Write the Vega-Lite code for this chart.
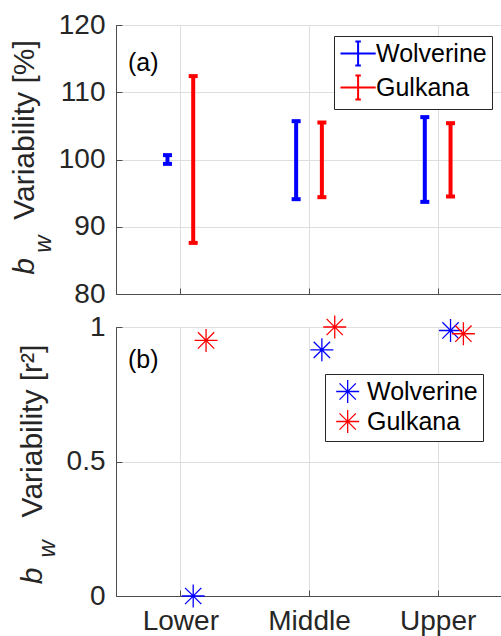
{
  "$schema": "https://vega.github.io/schema/vega-lite/v6.json",
  "padding": {"left": 8, "top": 10, "right": 0, "bottom": 0},
  "background": "white",
  "bounds": "flush",
  "spacing": 33,
  "resolve": {"legend": {"color": "independent"}, "scale": {"color": "independent"}},
  "config": {
    "font": "Liberation Sans",
    "view": {"stroke": "#4d4d4d", "strokeWidth": 1},
    "axis": {
      "labelFont": "Liberation Sans",
      "labelFontSize": 28,
      "labelColor": "#262626",
      "domainColor": "#4d4d4d",
      "tickColor": "#4d4d4d",
      "gridColor": "#dedede",
      "grid": true,
      "tickSize": -6,
      "labelPadding": 17,
      "titleFont": "Liberation Sans",
      "titleFontSize": 30,
      "titleFontWeight": "normal",
      "titleColor": "#262626"
    }
  },
  "vconcat": [
    {
      "width": 386,
      "height": 269,
      "data": {"values": [
        {"site": "Wolverine", "x": 0.9, "lo": 99.35, "hi": 100.65},
        {"site": "Gulkana", "x": 1.1, "lo": 87.6, "hi": 112.4},
        {"site": "Wolverine", "x": 1.9, "lo": 94.1, "hi": 105.7},
        {"site": "Gulkana", "x": 2.1, "lo": 94.4, "hi": 105.5},
        {"site": "Wolverine", "x": 2.9, "lo": 93.7, "hi": 106.3},
        {"site": "Gulkana", "x": 3.1, "lo": 94.5, "hi": 105.4}
      ]},
      "encoding": {
        "x": {"field": "x", "type": "quantitative",
          "scale": {"domain": [0.5, 3.5], "nice": false, "zero": false},
          "axis": {"values": [1, 2, 3], "labels": false, "title": null}},
        "color": {"field": "site", "type": "nominal",
          "scale": {"domain": ["Wolverine", "Gulkana"], "range": ["#0000ff", "#ff0000"]},
          "legend": {"title": null, "orient": "none", "legendX": 218, "legendY": 11,
            "fillColor": "white", "strokeColor": "#262626", "padding": 5,
            "symbolType": "M-1,0H2.2M0.6,-1.1V1.1M0.35,-1.1H0.85M0.35,1.1H0.85",
            "symbolSize": 484, "symbolStrokeWidth": 2, "symbolFillColor": "transparent",
            "labelFontSize": 25, "labelFont": "Liberation Sans", "labelColor": "black",
            "labelOffset": 12, "rowPadding": 1}}
      },
      "layer": [
        {
          "mark": {"type": "rule", "strokeWidth": 4},
          "encoding": {
            "y": {"field": "lo", "type": "quantitative",
              "scale": {"domain": [80, 120], "nice": false, "zero": false},
              "axis": {"values": [80, 90, 100, 110, 120], "title": "Variability [%]",
                "titleX": -92, "titleY": 104.5, "titleAngle": 270, "titleAlign": "center", "titleBaseline": "middle"}},
            "y2": {"field": "hi"}
          }
        },
        {
          "mark": {"type": "tick", "orient": "horizontal", "thickness": 4, "size": 9, "opacity": 1},
          "encoding": {"y": {"field": "lo", "type": "quantitative", "title": "Variability [%]"}}
        },
        {
          "mark": {"type": "tick", "orient": "horizontal", "thickness": 4, "size": 9, "opacity": 1},
          "encoding": {"y": {"field": "hi", "type": "quantitative", "title": "Variability [%]"}}
        },
        {
          "data": {"values": [{"label": "(a)", "x": 0.593, "y": 114.4}]},
          "mark": {"type": "text", "align": "left", "baseline": "middle", "fontSize": 25},
          "encoding": {
            "x": {"field": "x", "type": "quantitative"},
            "y": {"field": "y", "type": "quantitative", "title": "Variability [%]"},
            "text": {"field": "label"},
            "color": {"value": "black"}
          }
        },
        {
          "data": {"values": [{"label": "b", "x": 0.5, "y": 84.1}]},
          "mark": {"type": "text", "align": "center", "baseline": "middle", "fontSize": 30, "fontStyle": "italic", "angle": 270, "dy": -91},
          "encoding": {
            "x": {"field": "x", "type": "quantitative"},
            "y": {"field": "y", "type": "quantitative", "title": "Variability [%]"},
            "text": {"field": "label"},
            "color": {"value": "#262626"}
          }
        },
        {
          "data": {"values": [{"label": "w", "x": 0.5, "y": 87.44}]},
          "mark": {"type": "text", "align": "center", "baseline": "middle", "fontSize": 24, "fontStyle": "italic", "angle": 270, "dy": -72},
          "encoding": {
            "x": {"field": "x", "type": "quantitative"},
            "y": {"field": "y", "type": "quantitative", "title": "Variability [%]"},
            "text": {"field": "label"},
            "color": {"value": "#262626"}
          }
        }
      ]
    },
    {
      "width": 386,
      "height": 269,
      "data": {"values": [
        {"site": "Wolverine", "x": 1.1, "r2": 0.0},
        {"site": "Gulkana", "x": 1.2, "r2": 0.95},
        {"site": "Wolverine", "x": 2.1, "r2": 0.915},
        {"site": "Gulkana", "x": 2.2, "r2": 1.0},
        {"site": "Wolverine", "x": 3.1, "r2": 0.987},
        {"site": "Gulkana", "x": 3.2, "r2": 0.975}
      ]},
      "encoding": {
        "x": {"field": "x", "type": "quantitative",
          "scale": {"domain": [0.5, 3.5], "nice": false, "zero": false},
          "axis": {"values": [1, 2, 3], "title": null, "labelPadding": 17,
            "labelExpr": "datum.value == 1 ? 'Lower' : datum.value == 2 ? 'Middle' : 'Upper'"}}
      },
      "layer": [
        {
          "mark": {"type": "point", "shape": "M-1,0H1M0,-1V1M-0.71,-0.71L0.71,0.71M-0.71,0.71L0.71,-0.71",
            "filled": false, "size": 529, "strokeWidth": 1.3, "opacity": 1},
          "encoding": {
            "y": {"field": "r2", "type": "quantitative",
              "scale": {"domain": [0, 1], "nice": false, "zero": false},
              "axis": {"values": [0, 0.5, 1], "format": "~g", "title": "Variability [r²]",
                "titleX": -84, "titleY": 103.5, "titleAngle": 270, "titleAlign": "center", "titleBaseline": "middle"}},
            "color": {"field": "site", "type": "nominal",
              "scale": {"domain": ["Wolverine", "Gulkana"], "range": ["#0000ff", "#ff0000"]},
              "legend": {"title": null, "orient": "none", "legendX": 209, "legendY": 47,
                "fillColor": "white", "strokeColor": "#262626", "padding": 5,
                "symbolType": "M-0.55,0H1.45M0.45,-1V1M-0.26,-0.71L1.16,0.71M-0.26,0.71L1.16,-0.71",
                "symbolSize": 529, "symbolStrokeWidth": 1.3, "symbolFillColor": "transparent",
                "labelFontSize": 25, "labelFont": "Liberation Sans", "labelColor": "black",
                "labelOffset": 12, "rowPadding": 1}}
          }
        },
        {
          "data": {"values": [{"label": "(b)", "x": 0.593, "y": 0.877}]},
          "mark": {"type": "text", "align": "left", "baseline": "middle", "fontSize": 25},
          "encoding": {
            "x": {"field": "x", "type": "quantitative"},
            "y": {"field": "y", "type": "quantitative", "title": "Variability [r²]"},
            "text": {"field": "label"},
            "color": {"value": "black"}
          }
        },
        {
          "data": {"values": [{"label": "b", "x": 0.5, "y": 0.075}]},
          "mark": {"type": "text", "align": "center", "baseline": "middle", "fontSize": 30, "fontStyle": "italic", "angle": 270, "dy": -83},
          "encoding": {
            "x": {"field": "x", "type": "quantitative"},
            "y": {"field": "y", "type": "quantitative", "title": "Variability [r²]"},
            "text": {"field": "label"},
            "color": {"value": "#262626"}
          }
        },
        {
          "data": {"values": [{"label": "w", "x": 0.5, "y": 0.175}]},
          "mark": {"type": "text", "align": "center", "baseline": "middle", "fontSize": 24, "fontStyle": "italic", "angle": 270, "dy": -68},
          "encoding": {
            "x": {"field": "x", "type": "quantitative"},
            "y": {"field": "y", "type": "quantitative", "title": "Variability [r²]"},
            "text": {"field": "label"},
            "color": {"value": "#262626"}
          }
        }
      ]
    }
  ]
}
